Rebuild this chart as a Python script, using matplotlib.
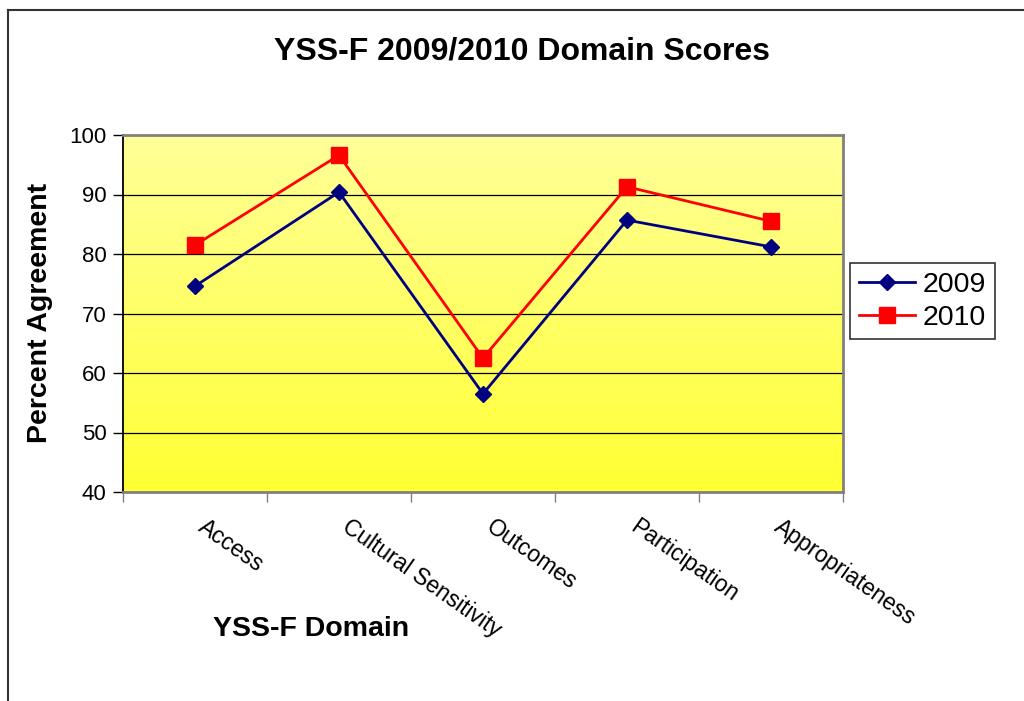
import numpy as np
import matplotlib
matplotlib.use("Agg")
import matplotlib.pyplot as plt
import matplotlib.transforms as mtransforms
from matplotlib.lines import Line2D

plt.rcParams["font.family"] = ["Liberation Sans", "DejaVu Sans"]

# ── DATA ───────────────────────────────────────────────────────
domains = ["Access", "Cultural Sensitivity", "Outcomes", "Participation", "Appropriateness"]
scores_2009 = [74.6, 90.4, 56.5, 85.7, 81.2]
scores_2010 = [81.5, 96.6, 62.5, 91.3, 85.5]
y_ticks = [40, 50, 60, 70, 80, 90, 100]

# ── FIGURE ─────────────────────────────────────────────────────
fig = plt.figure(figsize=(10.24, 7.01), dpi=100)
fig.patch.set_facecolor("white")
ax = fig.add_axes([123/1024, 1 - 492/701, 720/1024, 357/701])

# yellow gradient background
grad = np.linspace(0, 1, 256).reshape(-1, 1)
cmap = matplotlib.colors.LinearSegmentedColormap.from_list("yel", ["#FFFF99", "#FFFF33"])
ax.imshow(grad, aspect="auto", cmap=cmap, extent=[0, 1, 0, 1],
          transform=ax.transAxes, zorder=0)

x = np.arange(len(domains))
ax.plot(x, scores_2009, color="#000080", lw=2, marker="D", ms=8.5,
        mec="#000080", mfc="#000080", label="2009", zorder=3)
ax.plot(x, scores_2010, color="#FF0000", lw=2, marker="s", ms=11,
        mec="#FF0000", mfc="#FF0000", label="2010", zorder=3)

ax.set_xlim(-0.5, len(domains) - 0.5)
ax.set_ylim(40, 100)
ax.set_yticks(y_ticks)
ax.tick_params(axis="y", direction="out", length=7, width=1, pad=5, labelsize=16)

for yv in y_ticks[1:-1]:
    ax.axhline(yv, color="black", lw=0.9, zorder=1)

ax.set_xticks(x)
ax.set_xticklabels(domains, rotation=-35, ha="left", va="top",
                   rotation_mode="anchor", fontsize=16.5)
ax.set_xticks(np.arange(len(domains) + 1) - 0.5, minor=True)
ax.tick_params(axis="x", which="major", length=0, pad=17)
ax.tick_params(axis="x", which="minor", direction="out", length=7, width=1, color="#808080")
offset = mtransforms.ScaledTranslation(12/100, 0, fig.dpi_scale_trans)
for lbl in ax.get_xticklabels():
    lbl.set_transform(lbl.get_transform() + offset)

for side in ["top", "right", "bottom"]:
    ax.spines[side].set_color("#808080")
    ax.spines[side].set_linewidth(2)
ax.spines["left"].set_color("black")
ax.spines["left"].set_linewidth(1.3)

# ── TEXT ───────────────────────────────────────────────────────
fig.text(522/1024, 1 - 60/701, "YSS-F 2009/2010 Domain Scores",
         ha="center", va="baseline", fontsize=23, fontweight="bold")
fig.text(311/1024, 1 - 636/701, "YSS-F Domain",
         ha="center", va="baseline", fontsize=20.5, fontweight="bold")
fig.text(40/1024, 1 - 313/701, "Percent Agreement", rotation=90,
         ha="center", va="center", fontsize=20.5, fontweight="bold")

leg = ax.legend(loc="upper left", bbox_to_anchor=(850/1024, 1 - 263/701),
                bbox_transform=fig.transFigure, borderaxespad=0,
                fontsize=20.5, frameon=True, fancybox=False, shadow=False,
                edgecolor="black", handlelength=2.0, handletextpad=0.25,
                labelspacing=0.25, borderpad=0.3)
leg.get_frame().set_linewidth(1.2)

# outer chart frame (left and top)
fig.add_artist(Line2D([8/1024, 8/1024], [0, 1 - 10/701], color="#333333", lw=1.5))
fig.add_artist(Line2D([8/1024, 1], [1 - 10/701, 1 - 10/701], color="#333333", lw=1.5))

fig.savefig("out.png", dpi=100, facecolor="white")
